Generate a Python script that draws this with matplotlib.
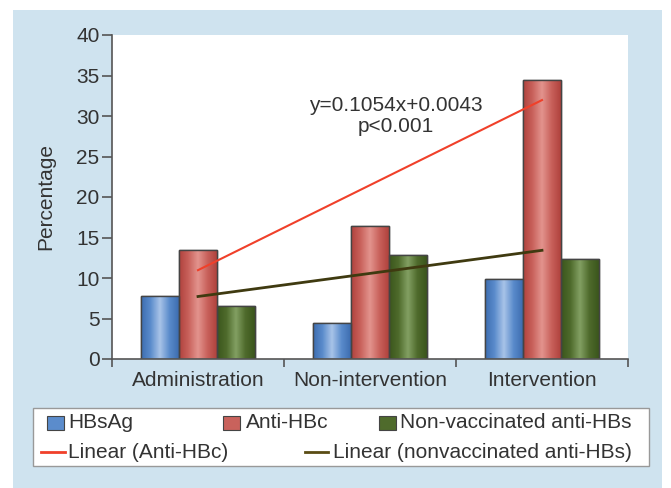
import numpy as np
import matplotlib
matplotlib.use('Agg')
import matplotlib.pyplot as plt
from matplotlib.colors import LinearSegmentedColormap
from matplotlib.patches import Rectangle
from matplotlib.lines import Line2D

plt.rcParams['font.family'] = ['Liberation Sans', 'DejaVu Sans']

categories = ['Administration', 'Non-intervention', 'Intervention']
hbsag = [7.8, 4.5, 9.9]
anti_hbc = [13.5, 16.4, 34.5]
nonvacc = [6.6, 12.8, 12.3]
series_names = ['HBsAg', 'Anti-HBc', 'Non-vaccinated anti-HBs']
trend_names = ['Linear (Anti-HBc)', 'Linear (nonvaccinated anti-HBs)']
equation = 'y=0.1054x+0.0043\np<0.001'

# dark edge / light highlight for the shaded bars
shades = [('#3d6db0', '#a9c4e8', '#5b8ccc'),
          ('#b0423d', '#e3948e', '#c9625c'),
          ('#3b561c', '#83a063', '#4f6b2c')]
trend_colors = ['#f0402a', '#3f3a10']
fs = 15
txt = '#333333'

W, H = 671, 488
fig = plt.figure(figsize=(W / 100, H / 100), dpi=100)
fig.patch.set_facecolor('white')

def fx(px):
    return px / W

def fy(py):
    return 1 - py / H

# light blue panel
fig.patches.append(Rectangle((fx(13), 0), fx(662) - fx(13), fy(10), transform=fig.transFigure,
                             facecolor='#cfe3ef', edgecolor='none', zorder=-5))

ax = fig.add_axes([fx(112), fy(359), fx(628) - fx(112), fy(35) - fy(359)])
ax.set_facecolor('white')

x = np.arange(len(categories))
width = 0.22
for i, vals in enumerate([hbsag, anti_hbc, nonvacc]):
    dark, light, mid = shades[i]
    cmap = LinearSegmentedColormap.from_list('s%d' % i, [dark, mid, light, mid, dark])
    grad = np.linspace(0, 1, 64).reshape(1, -1)
    bars = ax.bar(x + (i - 1) * width, vals, width, color=mid, edgecolor='#444444',
                  linewidth=1.0, zorder=2)
    for b in bars:
        x0 = b.get_x()
        im = ax.imshow(grad, cmap=cmap, aspect='auto', zorder=2.1,
                       extent=[x0, x0 + b.get_width(), 0, b.get_height()])
        im.set_clip_path(b)
        edge = Rectangle((x0, 0), b.get_width(), b.get_height(), fill=False,
                         edgecolor='#444444', linewidth=1.0, zorder=2.2)
        ax.add_patch(edge)

# linear trend lines
for vals, c, lw in [(anti_hbc, trend_colors[0], 1.5), (nonvacc, trend_colors[1], 2.0)]:
    k, b0 = np.polyfit(x, vals, 1)
    ax.plot([x[0], x[-1]], [b0 + k * x[0], b0 + k * x[-1]], color=c, lw=lw, zorder=3)

ax.text(1.15, 30.0, equation, ha='center', va='center', fontsize=fs, color=txt,
        linespacing=1.1, zorder=4)

ax.set_xlim(-0.5, 2.5)
ax.set_ylim(0, 40)
ax.set_yticks(range(0, 41, 5))
ax.set_xticks(x)
ax.set_xticklabels(categories)
ax.set_xticks([-0.5, 0.5, 1.5, 2.5], minor=True)
ax.tick_params(axis='x', which='major', length=0, pad=9, labelsize=fs, labelcolor=txt)
ax.tick_params(axis='x', which='minor', length=6, width=1.2, color='#555555', direction='out')
ax.tick_params(axis='y', length=7, width=1.2, color='#555555', pad=2, labelsize=fs, labelcolor=txt)
for s in ['top', 'right']:
    ax.spines[s].set_visible(False)
for s in ['left', 'bottom']:
    ax.spines[s].set_color('#555555')
    ax.spines[s].set_linewidth(1.2)
ax.set_ylabel('Percentage', fontsize=fs, color=txt, labelpad=15)

# legend box
fig.patches.append(Rectangle((fx(33), fy(466)), fx(649) - fx(33), fy(408) - fy(466),
                             transform=fig.transFigure, facecolor='white',
                             edgecolor='#999999', linewidth=1.0, zorder=1))
row1 = 423
row2 = 452
for (sx, tx), name, sh in zip([(47, 68), (223, 246), (379, 400)], series_names, shades):
    fig.patches.append(Rectangle((fx(sx), fy(row1 + 7)), fx(17), 14 / H, transform=fig.transFigure,
                                 facecolor=sh[2], edgecolor='#444444', linewidth=0.8, zorder=2))
    fig.text(fx(tx), fy(row1), name, fontsize=fs, color=txt, va='center', ha='left', zorder=3)
for (lx0, lx1, tx), name, c in zip([(41, 65, 68), (305, 328, 333)], trend_names, trend_colors):
    fig.lines.append(Line2D([fx(lx0), fx(lx1)], [fy(row2), fy(row2)], transform=fig.transFigure,
                            color=c if c != '#3f3a10' else '#5a4c14', lw=2, zorder=2))
    fig.text(fx(tx), fy(row2), name, fontsize=fs, color=txt, va='center', ha='left', zorder=3)

fig.savefig('out.png', dpi=100)
